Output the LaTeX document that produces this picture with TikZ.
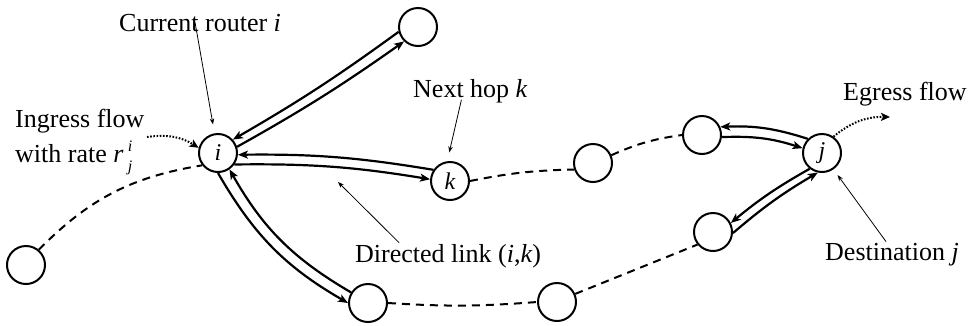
\documentclass[tikz,border=0pt]{standalone}
\usepackage{fontspec}
\setmainfont{Liberation Serif}
\usetikzlibrary{arrows.meta}
\newcommand{\scr}[1]{{\fontsize{16}{16}\selectfont\textit{#1}}}
\begin{document}
\begin{tikzpicture}[x=1pt,y=-1pt,
  router/.style={circle, draw, line width=2pt, minimum size=38pt, inner sep=0pt, font=\fontsize{24}{24}\selectfont\itshape},
  link/.style={line width=2.2pt, -{Stealth[length=10pt,width=8pt,inset=2.5pt]}},
  route/.style={line width=2pt, dash pattern=on 8pt off 6pt},
  flow/.style={line width=2pt, dash pattern=on 1.6pt off 1.6pt, -{Stealth[length=9pt,width=8pt,inset=2pt]}},
  pointer/.style={line width=0.8pt, -{Stealth[length=6pt,width=4.5pt]}},
  lbl/.style={inner sep=0pt, anchor=base west, font=\fontsize{26}{30}\selectfont}]
\useasboundingbox (0,0) rectangle (969,325);

% routers
\node[router] (i)  at (218,153) {i};
\node[router] (t)  at (418,27)  {};
\node[router] (k)  at (450,181) {k};
\node[router] (bl) at (26,265)  {};
\node[router] (b1) at (368,303) {};
\node[router] (b2) at (557,302) {};
\node[router] (m)  at (593,163) {};
\node[router] (ur) at (702,135) {};
\node[router] (j)  at (822,153) {j};
\node[router] (lr) at (713,232) {};

% labels
\node[lbl] (cr)  at (119,31)  {Current router \textit{i}};
\node[lbl, align=left, font=\fontsize{26}{35}\selectfont] (in) at (15,162)
  {Ingress flow\\with rate \textit{r}\rlap{\,\raisebox{-9pt}{\scr{j}}}\,\raisebox{11pt}{\scr{i}}};
\node[lbl] (nh)  at (413,97)  {Next hop \textit{k}};
\node[lbl] (eg)  at (843,100) {Egress flow};
\node[lbl] (dl)  at (355,262) {Directed link (\textit{i},\textit{k})};
\node[lbl] (ds)  at (825,260) {Destination \textit{j}};

% double links
\draw[link] (t.194) to[bend left=3] (i.42);
\draw[link] (i.18) to[bend right=3] (t.226);
\draw[link] (k.146) to[bend right=5] (i.-5);
\draw[link] (i.-35) to[bend left=5] (k.175);
\draw[link] (i.-90) to[bend right=15] (b1.180);
\draw[link] (b1.148) to[bend left=15] (i.-55);
\draw[link] (j.135) to[bend right=10] (ur.24);
\draw[link] (ur.-6) to[bend left=10] (j.166);
\draw[link] (j.232) to[bend right=5] (lr.27);
\draw[link] (lr.-3) to[bend left=5] (j.258);

% dashed paths
\draw[route] (bl.50) to[bend left=18] (i.218);
\draw[route] (k.0) to[bend left=5] (m.199);
\draw[route] (m.23) to[bend left=8] (ur.180);
\draw[route] (b1.0) to[bend right=4] (b2.180);
\draw[route] (b2.24) -- (lr.219);

% flows
\coordinate (ings) at (147,137);
\coordinate (egt) at (890,117);
\draw[flow] (ings) to[bend left=20] (i.165);
\draw[flow] (j.55) to[bend left=20] (egt);

% pointers
\coordinate (dlt) at (338,182);
\draw[pointer, shorten >=9pt] ([xshift=-5pt,yshift=9pt]cr.south) -- (i.100);
\draw[pointer, shorten >=9pt] ([xshift=-9pt,yshift=3pt]nh.south) -- (k.98);
\draw[pointer] ([xshift=-49pt,yshift=1pt]dl.north) -- (dlt);
\draw[pointer, shorten >=7pt] ([xshift=-6pt,yshift=1pt]ds.north) -- (j.-55);
\end{tikzpicture}
\end{document}
